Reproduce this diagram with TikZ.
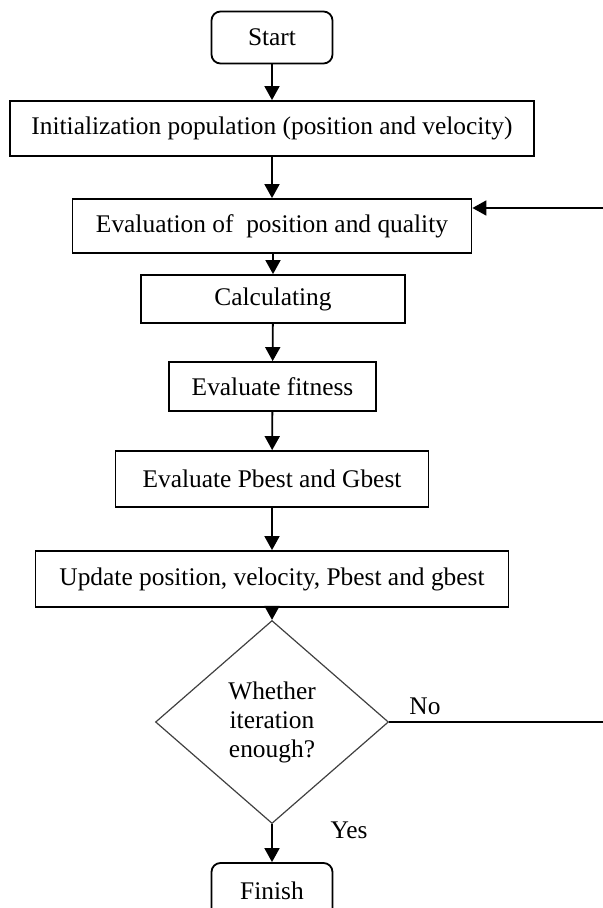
\documentclass[tikz,border=0pt]{standalone}
\usepackage{fontspec}
\setmainfont{Liberation Serif}
\usetikzlibrary{shapes.geometric,arrows.meta}

\begin{document}
\begin{tikzpicture}[x=0.5pt,y=-0.5pt,
  font=\fontsize{12.7pt}{14.5pt}\selectfont,
  box/.style={draw,line width=0.9pt,inner sep=0pt,align=center},
  term/.style={box,rounded corners=4.5pt,minimum width=60.5pt,minimum height=26pt},
  decide/.style={draw=black!75,line width=0.6pt,diamond,inner sep=0pt,align=center,
    minimum width=116.5pt,minimum height=101.5pt},
  arr/.style={line width=0.9pt,-{Triangle[length=7pt,width=7.5pt]}},
  lbl/.style={inner sep=0pt}]
\useasboundingbox (0,0) rectangle (602,908);
\node[term] (start) at (272,37.5) {Start};
\node[box,minimum width=262pt,minimum height=27.5pt] (init) at (272,128.5) {Initialization population (position and velocity)};
\node[box,minimum width=199.5pt,minimum height=27pt] (eval) at (272,226) {Evaluation of\ \ position and quality};
\node[box,minimum width=132pt,minimum height=24pt] (calc) at (273,299) {Calculating};
\node[box,minimum width=103.5pt,minimum height=24.5pt] (fit) at (272.5,386.5) {Evaluate fitness};
\node[box,minimum width=156.5pt,minimum height=28pt] (best) at (272,479) {Evaluate Pbest and Gbest};
\node[box,minimum width=236.5pt,minimum height=28pt] (upd) at (272,579) {Update position, velocity, Pbest and gbest};
\node[decide] (dec) at (272,722) {Whether\\iteration\\enough?};
\node[term,minimum height=27.5pt] (fin) at (272,890.5) {Finish};
\node[lbl] (no) at (425,706) {No};
\node[lbl] (yes) at (349,830) {Yes};
\coordinate (back) at (606,208);
\draw[arr] (start) -- (init);
\draw[arr] (init) -- (eval);
\draw[arr] (eval.south -| calc) -- (calc);
\draw[arr] (calc) -- (fit);
\draw[arr] (fit) -- (best);
\draw[arr] (best) -- (upd);
\draw[arr] (upd) -- (dec);
\draw[arr] (dec) -- (fin);
\draw[arr] (dec.east) -- (dec.east -| back) -- (back) -- (eval.east |- back);
\end{tikzpicture}
\end{document}
